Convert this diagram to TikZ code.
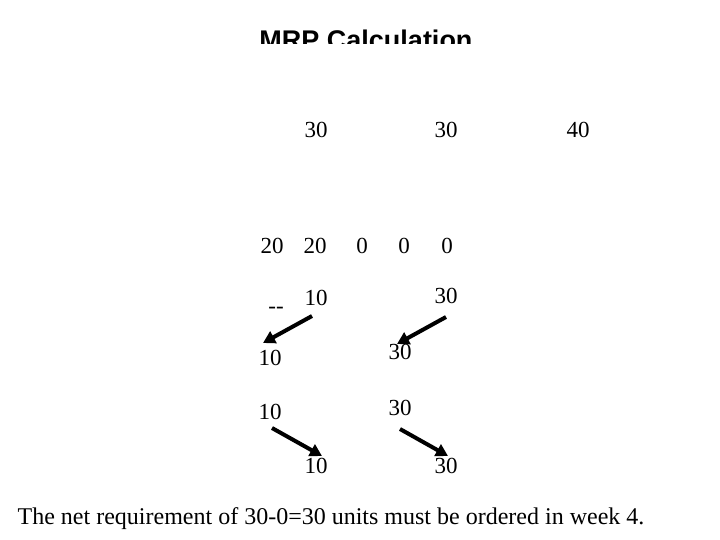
\documentclass[tikz,border=0pt]{standalone}
\usepackage{fontspec}
\setmainfont{Liberation Serif}
\newfontfamily\titlefont{Liberation Sans}
\usepackage{tikz}
\usetikzlibrary{arrows.meta}
\usetikzlibrary{calc}
\newcommand{\numsize}{\fontsize{23}{27}\selectfont}
\tikzset{
    num/.style={inner sep=1pt, font=\numsize},
    flow/.style={line width=4pt, -{Triangle[length=12pt, width=13pt]}},
    heading/.style={anchor=base, inner sep=0pt, font=\titlefont\bfseries\fontsize{27}{32}\selectfont},
    note/.style={anchor=base, inner sep=0pt, font=\fontsize{24}{28}\selectfont}
}
\begin{document}
\begin{tikzpicture}[x=1pt, y=-1pt]
    \useasboundingbox (0,0) rectangle (720,540);

    % title, cut off at its lower edge
    \begin{scope}
        \clip (0,0) rectangle (720,44);
        \node[heading] (title) at (366,50) {MRP Calculation};
    \end{scope}

    % gross requirements
    \node[num] (g2) at (316,130) {30};
    \node[num] (g4) at (446,130) {30};
    \node[num] (g6) at (578,130) {40};

    % on hand
    \node[num] (h1) at (272,246) {20};
    \node[num] (h2) at (315,246) {20};
    \node[num] (h3) at (362,246) {0};
    \node[num] (h4) at (404,246) {0};
    \node[num] (h5) at (447,246) {0};

    % net requirements
    \node[num] (dash) at (276,310) {-{}-};
    \node[num] (n2) at (316,298) {10};
    \node[num] (n4) at (446,296) {30};

    % planned receipts
    \node[num] (r2) at (270,358) {10};
    \node[num] (r4) at (400,352) {30};

    % planned order releases
    \node[num] (p2) at (270,412) {10};
    \node[num] (p4) at (400,408) {30};

    \node[num] (o2) at (316,466) {10};
    \node[num] (o4) at (446,466) {30};

    \draw[flow] ($(n2)+(-4,18)$) -- ($(r2)+(-7,-15)$);
    \draw[flow] ($(n4)+(0,21)$) -- ($(r4)+(-3,-8)$);
    \draw[flow] ($(p2)+(2,16)$) -- ($(o2)+(6,-10)$);
    \draw[flow] ($(p4)+(0,21)$) -- ($(o4)+(2,-10)$);

    \node[note] (text) at (331,524) {The net requirement of 30-0=30 units must be ordered in week 4.};
\end{tikzpicture}
\end{document}
